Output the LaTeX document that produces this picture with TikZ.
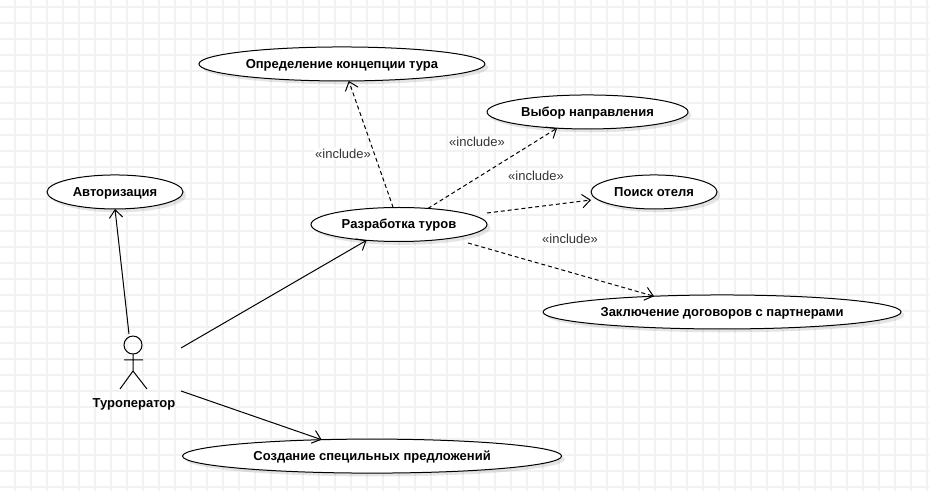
\documentclass[tikz,border=0pt]{standalone}
\usepackage{fontspec}
\setmainfont{Liberation Sans}
\usetikzlibrary{positioning, shapes.geometric, shadows, arrows.meta}

\tikzset{
    usecase/.style={ellipse, draw=black, fill=white, line width=0.75pt, inner sep=0pt, outer sep=0pt,
        minimum height=25.5pt, text height=8pt, text depth=1.5pt, font=\fontsize{9.75}{12}\selectfont\bfseries,
        drop shadow={shadow xshift=2.5pt, shadow yshift=-2.5pt, fill=black, opacity=0.1}},
    assoc/.style={line width=0.75pt, -{Straight Barb[length=6pt, width=10pt]}},
    incl/.style={assoc, dash pattern=on 3pt off 2.2pt},
    incllabel/.style={fill=white, fill opacity=0.8, text opacity=1, text=black!80, inner sep=1pt, font=\fontsize{9.75}{11}\selectfont},
    figure/.style={line width=0.75pt}
}

\begin{document}
\begin{tikzpicture}[x=0.75pt, y=-0.75pt, on grid]
    \useasboundingbox (0,0) rectangle (929,491);
    \fill[white] (0,0) rectangle (929,491);
    \foreach \gx in {15,31,...,927}
        \draw[black!5, line width=1pt] (\gx,0) -- (\gx,491);
    \foreach \gy in {7,23,...,487}
        \draw[black!5, line width=1pt] (0,\gy) -- (929,\gy);

    \node[usecase, minimum width=132pt] (dev) at (399,224.5) {Разработка туров};
    \node[usecase, minimum width=214.5pt] (concept) [above left=120.4pt and 42.8pt of dev] {Определение концепции тура};
    \node[usecase, minimum width=150.75pt] (select) [above right=84.4pt and 141.4pt of dev] {Выбор направления};
    \node[usecase, minimum width=94.5pt] (hotel) [above right=24.4pt and 191.3pt of dev] {Поиск отеля};
    \node[usecase, minimum width=268.5pt] (contract) [below right=65.6pt and 242.3pt of dev] {Заключение договоров с партнерами};

    \node[circle, draw=black, line width=0.75pt, minimum size=13.5pt, inner sep=0pt, outer sep=0pt] (head) [below left=90.4pt and 199.5pt of dev] {};
    \node[usecase, minimum width=102pt] (auth) [above left=114.8pt and 13.5pt of head] {Авторизация};
    \node[usecase, minimum width=284.25pt] (special) [below right=83.3pt and 179.3pt of head] {Создание специльных предложений};
    \node[font=\fontsize{9.75}{12}\selectfont\bfseries, text height=8pt, text depth=1.5pt, xshift=0.75pt] (touroperator) [below=43.5pt of head] {Туроператор};

    \coordinate (hip) at (133,371);
    \coordinate (armL) at (124,360);
    \coordinate (armR) at (143,360);
    \coordinate (legL) at (120,389);
    \coordinate (legR) at (147,389);
    \draw[figure] (head.south) -- (hip) (armL) -- (armR) (legL) -- (hip) -- (legR);

    \coordinate (actorTop) at (129,334);
    \coordinate (actorRight) at (181,348);
    \coordinate (actorLow) at (181,391);
    \coordinate (devRight) at (487,213);
    \coordinate (devLow) at (468,243);
    \coordinate (hotelIn) at (591,200);

    \draw[assoc] (actorTop) -- (auth.south);
    \draw[assoc] (actorRight) -- (dev.206.5);
    \draw[assoc] (actorLow) -- (special.162.6);

    \draw[incl] (dev.109) -- (concept.292);
    \draw[incl] (dev.29) -- (select.208);
    \draw[incl] (devRight) -- (hotelIn);
    \draw[incl] (devLow) -- (contract.167.5);

    \node[incllabel] (inclConcept) at (343,154) {«include»};
    \node[incllabel] (inclSelect) at (477,142) {«include»};
    \node[incllabel] (inclHotel) at (536,176) {«include»};
    \node[incllabel] (inclContract) at (570,239) {«include»};
\end{tikzpicture}
\end{document}
